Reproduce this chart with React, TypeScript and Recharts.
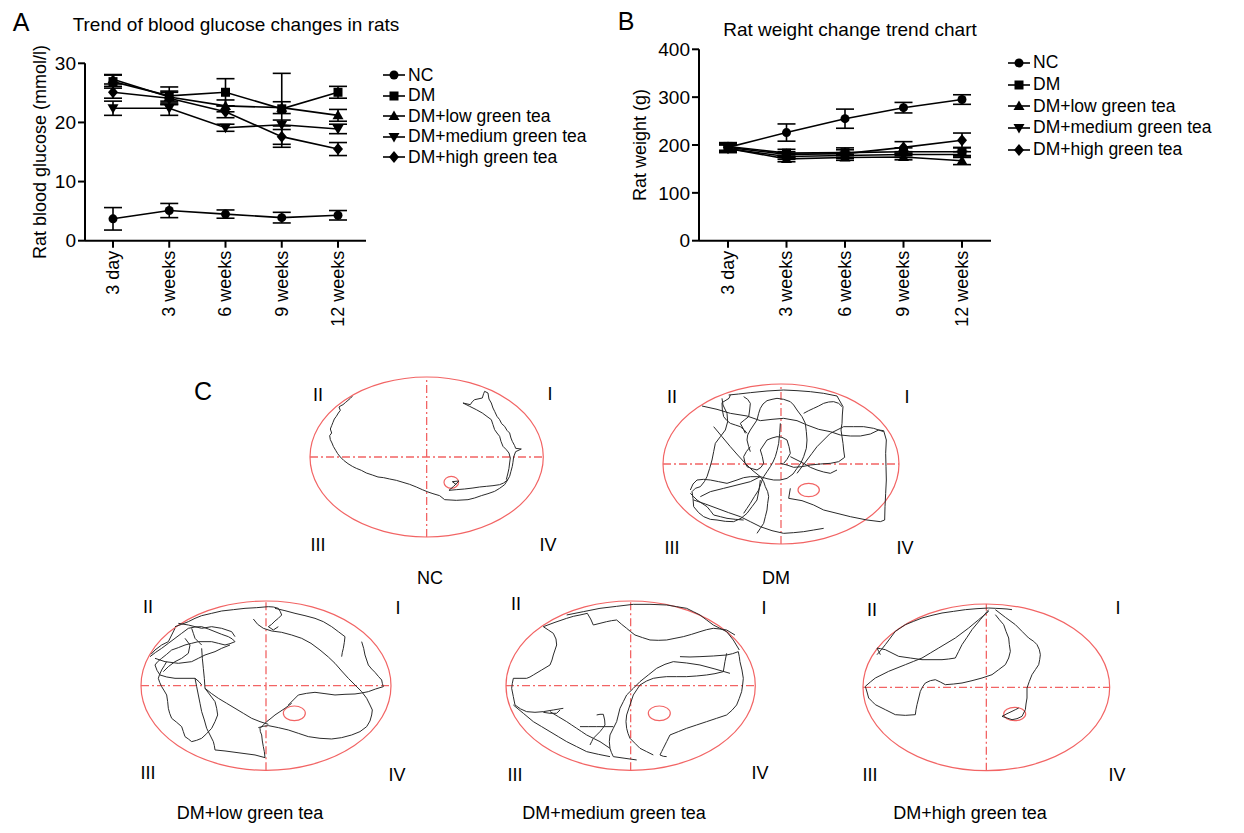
import React from "react";
import {
  ErrorBar,
  Line,
  LineChart,
  ReferenceArea,
  ReferenceLine,
  Scatter,
  ScatterChart,
  XAxis,
  YAxis,
} from "recharts";

const FONT = "'Liberation Sans', Arial, Helvetica, sans-serif";

const TIMEPOINTS = ["3 day", "3 weeks", "6 weeks", "9 weeks", "12 weeks"];
const GROUPS = ["NC", "DM", "DM+low green tea", "DM+medium green tea", "DM+high green tea"];

// blood glucose (mmol/l), mean and SD
const GLU_NC = [3.7, 5.1, 4.5, 3.9, 4.3];
const GLU_DM = [26.9, 24.5, 25.1, 22.3, 25.1];
const GLU_LOW = [27.3, 24.3, 22.8, 22.5, 21.2];
const GLU_MED = [22.4, 22.4, 19.1, 19.6, 18.9];
const GLU_HIGH = [25.1, 24.1, 21.8, 17.6, 15.5];
const GLU_NC_SD = [1.9, 1.2, 0.7, 0.9, 0.8];
const GLU_DM_SD = [1.1, 1.5, 2.3, 6.0, 1.0];
const GLU_LOW_SD = [0.8, 1.0, 1.0, 1.0, 1.0];
const GLU_MED_SD = [1.2, 1.2, 0.6, 0.8, 0.8];
const GLU_HIGH_SD = [1.0, 1.0, 1.0, 1.8, 1.1];

// body weight (g), mean and SD
const WT_NC = [195, 226, 255, 278, 295];
const WT_DM = [197, 183, 184, 186, 186];
const WT_LOW = [193, 171, 174, 175, 167];
const WT_MED = [192, 176, 178, 180, 180];
const WT_HIGH = [195, 180, 182, 195, 210];
const WT_NC_SD = [8, 18, 20, 11, 10];
const WT_DM_SD = [8, 8, 10, 8, 8];
const WT_LOW_SD = [8, 6, 6, 6, 8];
const WT_MED_SD = [8, 6, 6, 6, 6];
const WT_HIGH_SD = [8, 6, 8, 12, 15];

const GLU_TICKS = [0, 10, 20, 30];
const WT_TICKS = [0, 100, 200, 300, 400];

// Morris water maze swim tracks (tracker units, y downward)
type Pt = [number, number];
const NC_POOL = { cx: 381, cy: 262, rx: 350, ry: 240, px: 455, py: 338, prx: 22, pry: 18 };
const NC_PATHS: Pt[][] = [
  [[490, 100], [512, 105], [518, 96], [525, 90], [548, 85], [552, 72], [555, 65], [565, 70], [568, 88], [575, 100], [580, 115], [585, 125], [592, 140], [600, 150], [606, 162], [615, 170], [622, 182], [630, 190], [634, 205], [638, 215], [645, 228], [648, 236], [665, 238], [648, 246], [642, 262], [640, 278], [638, 290], [634, 305], [630, 320], [622, 334], [615, 345], [600, 356], [585, 365], [565, 372], [545, 378], [525, 385], [505, 390], [470, 392], [435, 390], [420, 378], [400, 372], [385, 367], [368, 360], [350, 352], [330, 344], [310, 338], [290, 332], [270, 328], [252, 324], [235, 322], [218, 316], [200, 310], [185, 302], [170, 296], [158, 290], [145, 282], [132, 272], [122, 262], [114, 252], [108, 242], [101, 230], [97, 220], [92, 210], [90, 198], [96, 190], [92, 178], [96, 168], [100, 158], [104, 148], [110, 140], [116, 130], [122, 122], [118, 112], [124, 108], [130, 105], [138, 98], [145, 92], [152, 86], [158, 80]],
  [[490, 100], [510, 110], [530, 120], [548, 130], [575, 150], [580, 165], [585, 180], [592, 190], [600, 200], [604, 215], [610, 230], [620, 240], [628, 250], [632, 265], [630, 280], [628, 296], [625, 310], [620, 330]],
  [[625, 330], [612, 340], [600, 345], [580, 348], [560, 350], [540, 352], [520, 355], [495, 358], [470, 360], [448, 362], [462, 350], [478, 334], [458, 336], [470, 345]],
];

const DM_POOL = { cx: 392, cy: 252, rx: 354, ry: 240, px: 475, py: 330, prx: 32, pry: 20 };
const DM_PATHS: Pt[][] = [
  [[155, 78], [200, 88], [240, 100], [290, 108], [330, 122], [365, 118], [400, 115], [440, 122], [470, 135], [505, 148], [540, 155], [570, 165], [600, 168], [630, 168], [660, 162], [685, 150], [700, 152], [708, 180], [706, 220], [707, 260], [708, 300], [706, 340], [704, 380], [703, 420], [690, 425], [650, 420], [600, 410], [560, 400], [520, 390], [490, 375], [455, 362], [415, 355], [420, 325]],
  [[235, 45], [265, 42], [300, 38], [350, 33], [400, 30], [440, 32], [480, 35], [520, 40], [560, 48], [578, 80], [576, 105], [575, 130], [572, 150], [578, 190], [580, 210], [583, 232], [565, 245], [540, 250], [510, 252], [480, 255], [455, 260], [430, 262], [410, 255], [390, 250]],
  [[215, 55], [218, 75], [230, 100], [232, 125], [225, 150], [210, 170], [195, 190], [190, 215], [185, 240], [178, 265], [170, 290], [162, 305], [150, 320], [135, 325], [125, 335], [128, 355], [130, 380], [145, 398], [160, 410], [180, 418], [200, 420], [225, 424], [250, 425], [272, 415], [290, 400], [305, 380], [320, 360], [326, 330], [330, 300]],
  [[190, 140], [215, 170], [240, 200], [262, 225], [285, 250], [305, 270], [330, 290], [350, 296], [370, 300], [390, 300], [410, 295], [428, 282], [440, 265], [452, 248], [460, 230], [468, 205], [470, 180], [468, 155], [465, 130], [455, 110], [440, 90], [430, 75], [420, 65], [400, 58], [380, 55], [365, 58], [350, 62], [338, 72], [330, 85], [325, 100], [320, 120], [310, 135], [300, 150], [292, 165], [290, 180], [295, 200], [300, 215]],
  [[390, 130], [388, 160], [385, 190], [380, 212], [375, 230], [368, 246], [360, 260], [350, 275], [340, 290], [332, 310], [325, 330], [312, 350], [300, 370], [290, 385], [280, 400]],
  [[130, 360], [165, 372], [200, 385], [235, 398], [270, 410], [300, 425], [330, 440], [365, 452], [400, 460], [430, 458], [460, 455], [490, 450], [520, 445]],
  [[700, 155], [670, 145], [640, 140], [610, 140], [580, 140], [560, 150], [540, 160], [520, 180], [500, 200], [485, 220], [470, 240], [455, 260], [440, 280]],
  [[280, 50], [292, 58], [300, 70], [298, 90], [295, 110], [282, 120], [270, 130], [278, 145], [285, 160]],
  [[240, 45], [236, 55], [215, 68], [216, 90], [220, 110], [230, 122], [240, 130], [255, 135], [270, 140], [282, 150], [290, 160]],
  [[300, 200], [288, 215], [280, 230], [284, 248], [290, 260], [305, 266], [320, 270], [332, 262], [340, 250], [336, 230], [330, 210], [340, 195], [350, 180], [365, 174], [380, 170], [395, 172], [410, 180], [416, 200], [420, 220], [410, 238], [400, 250]],
  [[120, 330], [128, 312], [140, 300], [160, 298], [180, 300], [205, 305], [230, 310], [245, 305], [260, 300], [280, 293], [300, 290], [330, 290]],
  [[420, 230], [440, 240], [460, 250], [480, 262], [500, 270], [520, 276], [540, 280], [560, 270]],
  [[330, 290], [300, 305], [260, 315], [220, 325], [180, 335], [150, 350]],
  [[330, 290], [340, 305], [345, 320], [352, 335], [355, 350], [352, 370], [350, 390], [345, 410], [340, 430], [330, 445], [320, 460]],
  [[460, 100], [475, 92], [490, 85], [505, 78], [520, 70], [535, 66], [550, 65], [565, 70], [575, 80]],
  [[120, 340], [130, 350], [140, 360], [155, 370], [170, 380], [180, 392], [190, 405], [210, 410], [230, 415], [255, 418], [280, 420]],
];

const LOW_POOL = { cx: 393, cy: 272, rx: 375, ry: 254, px: 478, py: 355, prx: 33, pry: 22 };
const LOW_PATHS: Pt[][] = [
  [[120, 95], [140, 88], [160, 80], [180, 70], [200, 62], [230, 55], [260, 48], [295, 44], [330, 40], [365, 38], [400, 35], [415, 36], [430, 40], [436, 50], [440, 60], [430, 70], [420, 78], [410, 88], [400, 95], [415, 105], [430, 95]],
  [[355, 72], [368, 88], [385, 100], [410, 108], [440, 112], [470, 120], [500, 130], [528, 145], [555, 165], [580, 186], [600, 205], [620, 228], [640, 250], [660, 270], [680, 290], [695, 310], [705, 330], [712, 345], [710, 360], [705, 378], [695, 395], [675, 410], [650, 420], [620, 428], [590, 432], [555, 430], [520, 425], [490, 415], [460, 405], [430, 398], [400, 392], [385, 394], [370, 398]],
  [[210, 280], [230, 296], [250, 310], [275, 325], [300, 340], [325, 355], [350, 370], [375, 380], [400, 388]],
  [[460, 330], [475, 315], [490, 300], [515, 295], [540, 292], [570, 296], [600, 300], [630, 298], [660, 297], [680, 294], [700, 290], [722, 282], [745, 275], [742, 265], [740, 255], [730, 244], [720, 232], [710, 222], [700, 210], [695, 195], [690, 180], [686, 160], [680, 140]],
  [[420, 40], [450, 47], [480, 55], [510, 62], [540, 70], [565, 80], [590, 95], [610, 110], [630, 125], [628, 142], [625, 160], [622, 172], [620, 185]],
  [[45, 185], [62, 172], [80, 160], [100, 145], [120, 130], [140, 115], [160, 100], [180, 96], [200, 95], [220, 102], [240, 110], [260, 118], [280, 125], [292, 132], [300, 140], [285, 146], [270, 150], [250, 145], [230, 140], [210, 140], [190, 140], [170, 145], [150, 150], [130, 158], [110, 165], [95, 178], [80, 190], [68, 200], [60, 210], [66, 226], [75, 240], [95, 246], [120, 250], [150, 250], [180, 250], [192, 260], [200, 270]],
  [[200, 160], [202, 190], [205, 220], [208, 250], [210, 280], [225, 300], [240, 320], [245, 340], [248, 360], [240, 380], [230, 400], [215, 416], [200, 430], [185, 436], [170, 440], [160, 432], [150, 425], [145, 410], [140, 395], [125, 382], [110, 370], [104, 355], [100, 340], [98, 320], [95, 300], [88, 288], [80, 275], [74, 262], [70, 250], [74, 238], [80, 225], [88, 212], [95, 200]],
  [[180, 250], [185, 275], [190, 300], [195, 325], [200, 350], [208, 375], [215, 400], [225, 420], [235, 440], [238, 452], [240, 465], [270, 468], [300, 472], [330, 476], [360, 480], [375, 484], [390, 488], [388, 470], [385, 455], [382, 438], [380, 420], [376, 410], [375, 400], [385, 390], [395, 380], [408, 370], [420, 360], [435, 350], [450, 340], [470, 325]],
  [[170, 100], [175, 115], [180, 130], [190, 140], [200, 150]],
  [[60, 190], [90, 200], [130, 205], [170, 200], [190, 190], [210, 180], [240, 170], [260, 160], [285, 150]],
  [[120, 100], [110, 120], [100, 140], [80, 150], [60, 165], [48, 178]],
  [[130, 85], [160, 90], [200, 100], [230, 95], [260, 100], [290, 110], [300, 125]],
  [[150, 130], [165, 150], [160, 175], [140, 190], [120, 200], [100, 215], [85, 230]],
];

const MED_POOL = { cx: 392, cy: 272, rx: 374, ry: 254, px: 478, py: 355, prx: 33, pry: 22 };
const MED_PATHS: Pt[][] = [
  [[130, 95], [145, 105], [160, 115], [168, 132], [170, 150], [165, 165], [160, 180], [156, 195], [150, 210], [125, 225], [100, 240], [90, 246], [80, 250], [60, 250], [40, 250], [37, 265], [35, 280], [40, 305], [45, 330], [62, 342], [80, 350], [105, 352], [130, 350], [160, 345], [190, 340]],
  [[130, 95], [165, 82], [200, 70], [220, 64], [240, 60], [262, 55], [272, 72], [280, 90], [300, 85], [320, 80], [335, 77], [350, 75], [365, 88], [380, 100], [392, 110], [405, 120], [428, 128], [450, 135], [475, 136], [500, 135], [525, 130], [550, 125], [575, 118], [600, 110], [620, 104], [640, 100], [660, 102], [680, 105], [705, 120]],
  [[200, 60], [250, 50], [300, 40], [350, 34], [400, 28], [450, 28], [500, 30], [530, 35], [560, 40], [580, 50], [600, 60], [620, 75], [640, 90], [660, 100], [680, 110], [700, 135], [718, 165]],
  [[540, 185], [570, 186], [600, 185], [640, 183], [680, 180], [698, 176], [715, 170], [718, 185], [720, 200], [726, 225], [730, 250], [728, 270], [725, 290], [718, 310], [710, 330], [696, 346], [680, 360], [650, 370], [620, 380], [590, 390], [560, 400], [535, 410], [510, 420], [500, 440], [490, 460], [485, 470], [480, 480], [490, 484], [500, 485]],
  [[680, 175], [675, 200], [670, 230], [645, 236], [620, 240], [590, 243], [560, 245], [530, 245], [500, 245], [480, 247], [460, 250], [440, 258], [420, 270], [410, 285], [400, 300], [395, 315], [390, 330], [385, 345], [380, 360], [378, 380], [380, 400], [384, 415], [390, 430], [405, 445], [420, 460], [440, 470], [460, 480]],
  [[690, 235], [645, 222], [600, 210], [560, 204], [520, 200], [495, 208], [470, 220], [445, 240], [420, 260], [400, 280], [380, 300], [370, 320], [360, 340], [355, 360], [350, 380], [340, 400], [330, 420], [328, 440], [330, 460], [334, 472], [340, 485], [375, 490], [410, 495]],
  [[40, 330], [70, 355], [100, 380], [125, 395], [150, 410], [175, 425], [200, 440], [230, 455], [260, 470], [295, 478], [330, 485]],
  [[240, 395], [265, 395], [290, 395], [315, 395], [340, 395]],
  [[290, 360], [300, 358], [310, 358], [314, 375], [315, 390], [308, 400], [300, 410], [290, 420], [280, 430], [275, 440], [270, 450]],
  [[150, 350], [175, 365], [200, 380], [215, 390], [230, 400], [245, 410], [260, 420], [280, 430], [300, 440], [315, 450], [330, 460]],
  [[180, 345], [170, 355], [150, 355], [130, 352]],
];

const HIGH_POOL = { cx: 393, cy: 268, rx: 370, ry: 250, px: 478, py: 348, prx: 33, pry: 20 };
const HIGH_PATHS: Pt[][] = [
  [[65, 170], [78, 155], [90, 140], [105, 120], [120, 100], [135, 90], [150, 80], [175, 70], [200, 60], [230, 52], [260, 45], [295, 40], [330, 35], [365, 32], [400, 30], [420, 31], [440, 32], [455, 33], [470, 35]],
  [[400, 40], [370, 65], [340, 90], [320, 105], [300, 120], [275, 135], [250, 150], [225, 165], [200, 180], [175, 190], [150, 200], [125, 210], [100, 220], [80, 230], [60, 240], [45, 252], [30, 265], [35, 282], [40, 300], [50, 310], [60, 320], [90, 335], [120, 350], [150, 352], [180, 350], [182, 335], [185, 320], [190, 300], [195, 280], [202, 266], [210, 255], [225, 248], [240, 245], [255, 252], [270, 260], [295, 258], [320, 255], [350, 248], [380, 240], [395, 235], [410, 230], [430, 215], [450, 200], [460, 180], [465, 160], [462, 140], [460, 120], [452, 100], [445, 80], [432, 65], [420, 50]],
  [[400, 35], [375, 65], [350, 95], [335, 118], [320, 140], [310, 160], [300, 180], [280, 183], [260, 185], [230, 185], [200, 185], [165, 180], [130, 175], [110, 165], [90, 155], [75, 152], [65, 150], [70, 160], [75, 170]],
  [[420, 35], [450, 58], [480, 80], [500, 100], [520, 120], [535, 130], [545, 140], [552, 155], [555, 170], [553, 185], [550, 200], [540, 215], [530, 230], [522, 250], [515, 270], [515, 285], [515, 300], [512, 318], [510, 335], [505, 345], [500, 355], [485, 362], [470, 365], [455, 360], [440, 355], [455, 347], [470, 340], [480, 335], [490, 330]],
];

function buildRows(means: number[][], sds: number[][]) {
  return TIMEPOINTS.map((t, i) => {
    const row: any = { time: t };
    means.forEach((m, k) => {
      row[`m${k}`] = m[i];
      row[`sd${k}`] = sds[k][i];
    });
    return row;
  });
}

const gluRows = buildRows(
  [GLU_NC, GLU_DM, GLU_LOW, GLU_MED, GLU_HIGH],
  [GLU_NC_SD, GLU_DM_SD, GLU_LOW_SD, GLU_MED_SD, GLU_HIGH_SD],
);
const wtRows = buildRows(
  [WT_NC, WT_DM, WT_LOW, WT_MED, WT_HIGH],
  [WT_NC_SD, WT_DM_SD, WT_LOW_SD, WT_MED_SD, WT_HIGH_SD],
);

function Marker({ kind, cx, cy }: { kind: number; cx: number; cy: number }) {
  if (kind === 0) return <circle cx={cx} cy={cy} r={4.5} fill="#000" />;
  if (kind === 1) return <rect x={cx - 4.5} y={cy - 4.5} width={9} height={9} fill="#000" />;
  if (kind === 2) {
    return <path d={`M${cx},${cy - 5.5}L${cx + 5.5},${cy + 4}L${cx - 5.5},${cy + 4}Z`} fill="#000" />;
  }
  if (kind === 3) {
    return <path d={`M${cx},${cy + 5.5}L${cx + 5.5},${cy - 4}L${cx - 5.5},${cy - 4}Z`} fill="#000" />;
  }
  return <path d={`M${cx},${cy - 6}L${cx + 5},${cy}L${cx},${cy + 6}L${cx - 5},${cy}Z`} fill="#000" />;
}

const RotTick = ({ x, y, payload }: any) => (
  <text
    x={x}
    y={y}
    transform={`rotate(-90, ${x}, ${y})`}
    textAnchor="end"
    dominantBaseline="central"
    fontSize={18}
    fontFamily={FONT}
    fill="#000"
  >
    {payload.value}
  </text>
);

function TrendChart(
  { rows, ticks, yMax, yLabel, left, top, width, height, margin, labelOffset, pad }: any,
) {
  return (
    <div style={{ position: "absolute", left, top }}>
      <LineChart width={width} height={height} data={rows} margin={margin}>
        <XAxis
          dataKey="time"
          padding={{ left: pad, right: pad }}
          axisLine={{ stroke: "#000", strokeWidth: 2 }}
          tickLine={{ stroke: "#000", strokeWidth: 2 }}
          tickSize={7}
          tickMargin={3}
          height={95}
          interval={0}
          tick={<RotTick />}
        />
        <YAxis
          domain={[0, yMax]}
          ticks={ticks}
          width={60}
          axisLine={{ stroke: "#000", strokeWidth: 2 }}
          tickLine={{ stroke: "#000", strokeWidth: 2 }}
          tickSize={7}
          tickMargin={2}
          tick={{ fontSize: 19, fill: "#000", fontFamily: FONT }}
          label={{
            value: yLabel,
            angle: -90,
            position: "insideLeft",
            offset: labelOffset,
            style: { textAnchor: "middle", fontSize: 18, fill: "#000", fontFamily: FONT },
          }}
        />
        {GROUPS.map((g, k) => (
          <Line
            key={g}
            dataKey={`m${k}`}
            name={g}
            stroke="#000"
            strokeWidth={1.6}
            isAnimationActive={false}
            dot={(p: any) => <Marker key={`${g}-${p.index}`} kind={k} cx={p.cx} cy={p.cy} />}
          >
            <ErrorBar dataKey={`sd${k}`} width={9} stroke="#000" strokeWidth={1.6} direction="y" />
          </Line>
        ))}
      </LineChart>
    </div>
  );
}

function LegendBox({ left, top, rowH }: { left: number; top: number; rowH: number }) {
  return (
    <div style={{ position: "absolute", left, top, fontFamily: FONT, fontSize: 17.5 }}>
      {GROUPS.map((g, k) => (
        <div key={g} style={{ display: "flex", alignItems: "center", height: rowH, whiteSpace: "nowrap" }}>
          <svg width={25} height={14}>
            <line x1={0} y1={7} x2={22} y2={7} stroke="#000" strokeWidth={1.6} />
            <Marker kind={k} cx={11} cy={7} />
          </svg>
          <span>{g}</span>
        </div>
      ))}
    </div>
  );
}

function Txt({ x, y, size = 18, children }: any) {
  return (
    <div
      style={{
        position: "absolute",
        left: x,
        top: y,
        transform: "translate(-50%, -50%)",
        fontFamily: FONT,
        fontSize: size,
        whiteSpace: "nowrap",
        lineHeight: 1,
      }}
    >
      {children}
    </div>
  );
}

const RED = "#f26464";

const poolShape = (p: any) => (
  <ellipse
    cx={p.x + p.width / 2}
    cy={p.y + p.height / 2}
    rx={Math.abs(p.width) / 2}
    ry={Math.abs(p.height) / 2}
    fill="none"
    stroke={RED}
    strokeWidth={1.2}
  />
);

const noDot = () => <g />;

function Maze({ pool, paths, box, caption, labels }: any) {
  const pad = 3;
  return (
    <>
      <div style={{ position: "absolute", left: box.left - pad, top: box.top - pad }}>
        <ScatterChart
          width={box.w + 2 * pad}
          height={box.h + 2 * pad}
          margin={{ top: pad, right: pad, bottom: pad, left: pad }}
        >
          <XAxis type="number" dataKey="x" domain={[pool.cx - pool.rx, pool.cx + pool.rx]} hide allowDataOverflow />
          <YAxis type="number" dataKey="y" domain={[pool.cy - pool.ry, pool.cy + pool.ry]} reversed hide allowDataOverflow />
          <ReferenceArea
            x1={pool.cx - pool.rx}
            x2={pool.cx + pool.rx}
            y1={pool.cy - pool.ry}
            y2={pool.cy + pool.ry}
            ifOverflow="visible"
            shape={poolShape}
          />
          <ReferenceLine x={pool.cx} stroke={RED} strokeWidth={1.3} strokeDasharray="8 3 2 3" />
          <ReferenceLine y={pool.cy} stroke={RED} strokeWidth={1.3} strokeDasharray="8 3 2 3" />
          <ReferenceArea
            x1={pool.px - pool.prx}
            x2={pool.px + pool.prx}
            y1={pool.py - pool.pry}
            y2={pool.py + pool.pry}
            ifOverflow="visible"
            shape={poolShape}
          />
          {paths.map((path: Pt[], i: number) => (
            <Scatter
              key={i}
              data={path.map(([x, y]) => ({ x, y }))}
              line={{ stroke: "#2a2a2a", strokeWidth: 1 }}
              lineType="joint"
              shape={noDot}
              isAnimationActive={false}
            />
          ))}
        </ScatterChart>
      </div>
      {labels.map((l: any) => (
        <Txt key={l.t} x={l.x} y={l.y}>{l.t}</Txt>
      ))}
      <Txt x={caption.x} y={caption.y}>{caption.t}</Txt>
    </>
  );
}

const quad = (ii: Pt, i: Pt, iii: Pt, iv: Pt) => [
  { t: "II", x: ii[0], y: ii[1] },
  { t: "I", x: i[0], y: i[1] },
  { t: "III", x: iii[0], y: iii[1] },
  { t: "IV", x: iv[0], y: iv[1] },
];

export default function App() {
  return (
    <div
      style={{
        position: "absolute",
        left: 0,
        top: 0,
        width: 1244,
        height: 833,
        background: "#fff",
        fontFamily: FONT,
        color: "#000",
      }}
    >
      <Txt x={21} y={22} size={25}>A</Txt>
      <Txt x={236} y={24} size={19}>Trend of blood glucose changes in rats</Txt>
      <TrendChart
        rows={gluRows}
        ticks={GLU_TICKS}
        yMax={30}
        yLabel="Rat blood glucose (mmol/l)"
        left={0}
        top={40}
        width={600}
        height={300}
        margin={{ top: 23.3, right: 234, bottom: 4.3, left: 25 }}
        labelOffset={15}
        pad={28}
      />
      <LegendBox left={383} top={65} rowH={20.5} />

      <Txt x={626} y={21} size={25}>B</Txt>
      <Txt x={850} y={29} size={19}>Rat weight change trend chart</Txt>
      <TrendChart
        rows={wtRows}
        ticks={WT_TICKS}
        yMax={400}
        yLabel="Rat weight (g)"
        left={600}
        top={0}
        width={640}
        height={340}
        margin={{ top: 49.3, right: 249, bottom: 4.3, left: 39 }}
        labelOffset={1}
        pad={29}
      />
      <LegendBox left={1008} top={52} rowH={21.7} />

      <Txt x={203} y={391} size={25}>C</Txt>
      <Maze
        pool={NC_POOL}
        paths={NC_PATHS}
        box={{ left: 310.3, top: 377.3, w: 233.3, h: 160 }}
        caption={{ t: "NC", x: 430, y: 578 }}
        labels={quad([318, 395], [550, 394], [318, 545], [548, 545])}
      />
      <Maze
        pool={DM_POOL}
        paths={DM_PATHS}
        box={{ left: 662.7, top: 384, w: 236, h: 160 }}
        caption={{ t: "DM", x: 776, y: 578 }}
        labels={quad([672, 397], [907, 397], [672, 548], [905, 548])}
      />
      <Maze
        pool={LOW_POOL}
        paths={LOW_PATHS}
        box={{ left: 141, top: 601, w: 250, h: 169.3 }}
        caption={{ t: "DM+low green tea", x: 250, y: 813 }}
        labels={quad([148, 607], [398, 608], [148, 773], [397, 775])}
      />
      <Maze
        pool={MED_POOL}
        paths={MED_PATHS}
        box={{ left: 506, top: 601, w: 249.3, h: 169.3 }}
        caption={{ t: "DM+medium green tea", x: 614, y: 813 }}
        labels={quad([516, 604], [764, 608], [515, 775], [760, 773])}
      />
      <Maze
        pool={HIGH_POOL}
        paths={HIGH_PATHS}
        box={{ left: 862.7, top: 604, w: 246.7, h: 166.7 }}
        caption={{ t: "DM+high green tea", x: 970, y: 813 }}
        labels={quad([872, 610], [1118, 608], [870, 775], [1117, 775])}
      />
    </div>
  );
}
